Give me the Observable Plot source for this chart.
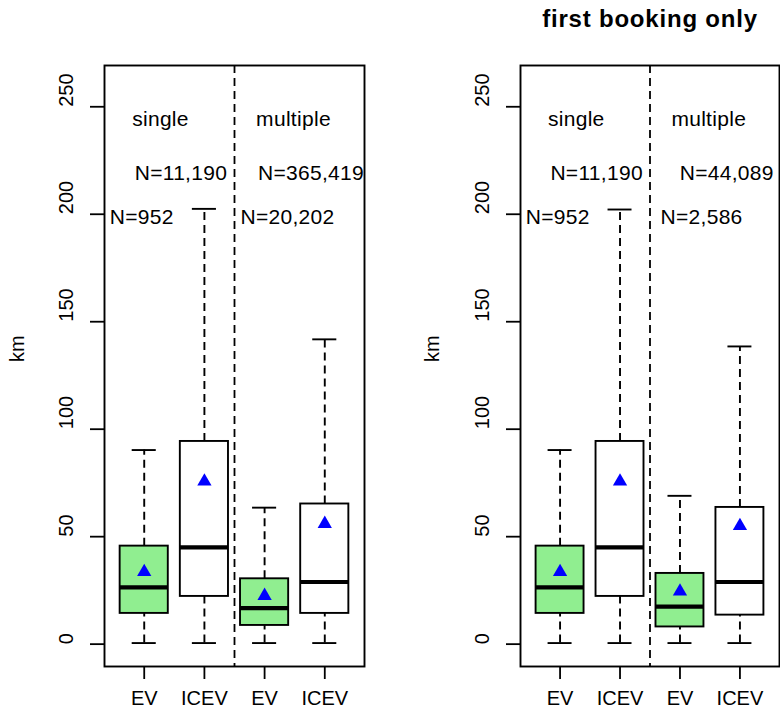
<!DOCTYPE html>
<html>
<head>
<meta charset="utf-8">
<script src="https://cdn.jsdelivr.net/npm/d3@7"></script>
<script src="https://cdn.jsdelivr.net/npm/@observablehq/plot@0.6"></script>
<style>
  body { margin: 0; background: white; }
  #wrap { position: relative; width: 780px; height: 720px; display: flex; }
  #wrap svg { display: block; }
  #title { position: absolute; left: 520px; width: 260px; top: 5px; line-height: 24px;
           text-align: center; font: bold 24px "Liberation Sans", Arial, sans-serif;
           letter-spacing: 0.8px; color: #000; z-index: 2; }
</style>
</head>
<body>
<div id="wrap"><div id="title">first booking only</div></div>
<script>
// ---- data ----
const groups = ["EV", "ICEV", "EV", "ICEV"];
const positions = [1, 2, 3, 4];
const yTicks = [0, 50, 100, 150, 200, 250];

// all bookings (left panel)
const loAll    = [0.5, 0.5, 0.5, 0.5];
const q1All    = [14.3, 22.2, 8.7, 14.3];
const medAll   = [26.4, 45.0, 16.8, 28.9];
const q3All    = [45.6, 94.3, 30.4, 65.2];
const hiAll    = [90.3, 202.5, 63.5, 141.8];
const meanAll  = [33.6, 75.7, 22.5, 56.0];
const countsAll = ["N=952", "N=11,190", "N=20,202", "N=365,419"];

// first booking only (right panel)
const loFirst   = [0.5, 0.5, 0.5, 0.5];
const q1First   = [14.3, 22.2, 8.0, 13.5];
const medFirst  = [26.4, 45.0, 17.5, 28.9];
const q3First   = [45.6, 94.3, 32.9, 63.6];
const hiFirst   = [90.3, 202.2, 69.0, 138.5];
const meanFirst = [33.6, 75.7, 24.5, 55.0];
const countsFirst = ["N=952", "N=11,190", "N=2,586", "N=44,089"];

const sectionLabels = ["single", "multiple"];
// label anchor positions in data coordinates (x position, km)
const sectionPos = [[1.27, 244], [3.48, 244]];
const countPosAll   = [[0.96, 198.4], [1.61, 219], [3.38, 198.4], [3.77, 219]];
const countPosFirst = [[0.96, 198.4], [1.61, 219], [3.36, 198.4], [3.78, 219]];

const FONT = "Liberation Sans, Arial, Helvetica, sans-serif";

function build(lo, q1, med, q3, hi, mean) {
  return positions.map((p, i) => ({pos: p, group: groups[i], lo: lo[i], q1: q1[i], med: med[i], q3: q3[i], hi: hi[i], mean: mean[i]}));
}

function panel(rows, counts, countPos, marginLeft, marginRight, width) {
  const labels = sectionLabels.map((t, i) => ({t, x: sectionPos[i][0], y: sectionPos[i][1]}));
  const cl = counts.map((t, i) => ({t, x: countPos[i][0], y: countPos[i][1]}));
  const dash = "8,5";
  const ann = {fontSize: 21, fill: "black", style: ""};
  return Plot.plot({
    width, height: 720,
    marginLeft, marginRight, marginTop: 65, marginBottom: 54,
    style: {fontFamily: FONT, fontSize: "20px", background: "white", color: "black"},
    x: {type: "linear", domain: [0.34, 4.66], axis: null},
    y: {domain: [-10.4, 269.2], axis: null},
    marks: [
      // whiskers
      Plot.ruleX(rows, {x: "pos", y1: "q3", y2: "hi", stroke: "black", strokeWidth: 1.9, strokeDasharray: dash}),
      Plot.ruleX(rows, {x: "pos", y1: "lo", y2: "q1", stroke: "black", strokeWidth: 1.9, strokeDasharray: dash}),
      Plot.ruleY(rows, {y: "hi", x1: d => d.pos - 0.2, x2: d => d.pos + 0.2, stroke: "black", strokeWidth: 1.9}),
      Plot.ruleY(rows, {y: "lo", x1: d => d.pos - 0.2, x2: d => d.pos + 0.2, stroke: "black", strokeWidth: 1.9}),
      // boxes
      Plot.rect(rows.filter(d => d.group === "EV"), {x1: d => d.pos - 0.4, x2: d => d.pos + 0.4, y1: "q1", y2: "q3", fill: "#90ee90", stroke: "black", strokeWidth: 1.9}),
      Plot.rect(rows.filter(d => d.group !== "EV"), {x1: d => d.pos - 0.4, x2: d => d.pos + 0.4, y1: "q1", y2: "q3", fill: "white", stroke: "black", strokeWidth: 1.9}),
      Plot.ruleY(rows, {y: "med", x1: d => d.pos - 0.4, x2: d => d.pos + 0.4, stroke: "black", strokeWidth: 4.2}),
      // means
      Plot.dot(rows, {x: "pos", y: "mean", symbol: "triangle", fill: "blue", r: 5.3}),
      // divider
      Plot.ruleX([2.5], {stroke: "black", strokeWidth: 1.8, strokeDasharray: dash}),
      // annotations
      Plot.text(labels, {x: "x", y: "y", text: "t", ...ann}),
      Plot.text(cl, {x: "x", y: "y", text: "t", ...ann}),
      // axes
      Plot.axisY({ticks: yTicks, tickSize: 14, tickFormat: () => "", stroke: "black", strokeWidth: 1.8}),
      Plot.text(yTicks, {y: d => d, text: d => String(d), frameAnchor: "left", rotate: -90, dx: -37.5, fontSize: 20, fill: "black"}),
      Plot.axisX({ticks: positions, tickSize: 13, tickFormat: () => "", stroke: "black", strokeWidth: 1.8}),
      Plot.text(positions, {x: d => d, text: (d, i) => groups[i], frameAnchor: "bottom", dy: 38, fontSize: 20, fill: "black"}),
      Plot.text(["km"], {text: d => d, frameAnchor: "left", rotate: -90, dx: marginLeft === 104 ? -86.5 : -88.3, dy: -4, fontSize: 20, fill: "black"}),
      Plot.frame({stroke: "black", strokeWidth: 1.9})
    ]
  });
}

const wrap = document.getElementById("wrap");
const left = panel(build(loAll, q1All, medAll, q3All, hiAll, meanAll), countsAll, countPosAll, 104, 26, 390);
const right = panel(build(loFirst, q1First, medFirst, q3First, hiFirst, meanFirst), countsFirst, countPosFirst, 130, 1, 390);
wrap.appendChild(left);
wrap.appendChild(right);
// slight letter-spacing on annotation text to match the reference's wider glyph rendering
for (const svg of [left, right]) {
  svg.querySelectorAll("text").forEach(t => {
    if (t.getAttribute("font-size") === "21" || (t.parentNode && t.parentNode.getAttribute && t.parentNode.getAttribute("font-size") === "21")) {
      t.setAttribute("letter-spacing", "0.3");
    }
  });
}
</script>
</body>
</html>
